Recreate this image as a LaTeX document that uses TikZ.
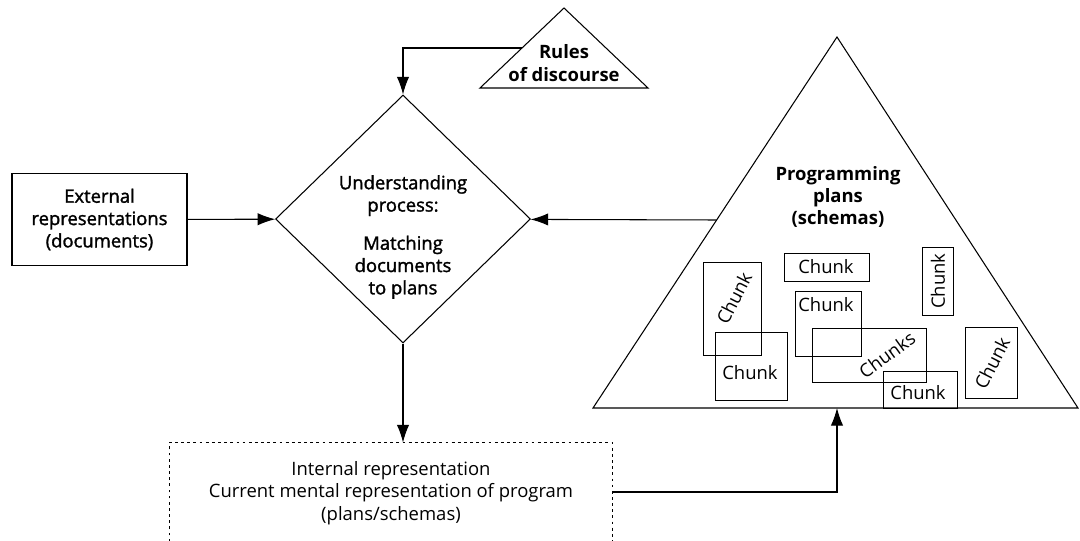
\documentclass[tikz,border=0pt]{standalone}
\usepackage{fontspec}
\setmainfont{Open Sans}
\newfontfamily\medfont[FakeBold=1.6]{Open Sans}
\usetikzlibrary{shapes.geometric, arrows.meta, positioning}
\newcommand\sz{\fontsize{10.5}{12.7}\selectfont}

\begin{document}
\begin{tikzpicture}[x=0.02cm, y=-0.02cm, line width=0.6pt, >={Latex[length=10pt,width=7pt]},
    every node/.style={font=\sz, inner sep=1pt},
    title/.style={align=center, font=\sz\bfseries},
    chunkbox/.style={draw, line width=0.5pt},
    dots/.style={line width=0.5pt, dash pattern=on 1.6pt off 1.9pt}]
  \useasboundingbox (0,0) rectangle (1080,541);

  % documents and process
  \node[draw, minimum width=3.5cm, minimum height=1.84cm, align=center, font=\sz\medfont] (ext) at (99.5,219.5) {External\\representations\\(documents)};
  \node[draw, diamond, minimum width=5.1cm, minimum height=4.96cm, inner sep=0pt] (proc) at (403,219) {};
  \node[align=center, font=\sz\medfont] (proctext) at (403,237) {Understanding\\process:\\[9pt]Matching\\documents\\to plans};

  % rules of discourse
  \draw (564,8) -- (648,88) -- (480,88) -- cycle;
  \node[title] (rules) at (564,63) {Rules\\of discourse};
  \coordinate (rulesL) at (522,48);

  % plans triangle
  \draw (837,37) -- (1078,408) -- (593,408) -- cycle;
  \node[title] (plans) at (838,197) {Programming\\plans\\(schemas)};
  \coordinate (plansL) at (716.6,220);
  \coordinate (plansB) at (837,408);

  % chunks
  \draw[chunkbox] (703,262) rectangle (761,355); \node[rotate=63] (c1) at (734,298) {Chunk};
  \draw[chunkbox] (715,332) rectangle (787,400); \node (c2) at (750,373) {Chunk};
  \draw[chunkbox] (784,253) rectangle (869,281); \node (c3) at (826,267) {Chunk};
  \draw[chunkbox] (795,291) rectangle (861,356); \node (c4) at (826,305) {Chunk};
  \draw[chunkbox] (812,328) rectangle (926,382); \node[rotate=36] (c5) at (887,355) {Chunks};
  \draw[chunkbox] (883,371) rectangle (957,408); \node (c6) at (918,393) {Chunk};
  \draw[chunkbox] (922,247) rectangle (953,315); \node[rotate=90] (c7) at (938,281) {Chunk};
  \draw[chunkbox] (965,327) rectangle (1017,398); \node[rotate=63] (c8) at (992,363) {Chunk};

  % internal representation
  \node[minimum width=8.84cm, minimum height=1.96cm] (int) at (391,492) {};
  \draw[dots] (int.south west) -- (int.north west) -- (int.north east) -- (int.south east);
  \node[align=center] (inttext) at (391,493) {Internal representation\\Current mental representation of program\\(plans/schemas)};

  % arrows
  \draw[->] (ext) -- (proc);
  \draw[->] (rulesL) -| (proc);
  \draw[->] (plansL) -- (proc);
  \draw[->] (proc) -- (proc |- int.north);
  \draw[->] (int.east) -| (plansB);
\end{tikzpicture}
\end{document}
